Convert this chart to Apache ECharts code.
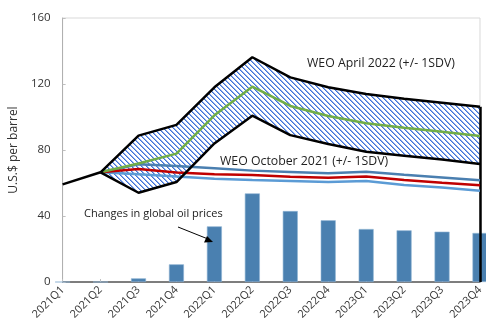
<!DOCTYPE html>
<html><head><meta charset="utf-8">
<script src="https://cdn.jsdelivr.net/npm/echarts@6/dist/echarts.min.js"></script>
<style>html,body{margin:0;padding:0;background:#fff}#c{width:486px;height:324px}</style>
</head><body><div id="c"></div>
<script>
var categories = ['2021Q1','2021Q2','2021Q3','2021Q4','2022Q1','2022Q2','2022Q3','2022Q4','2023Q1','2023Q2','2023Q3','2023Q4'];
var yTicks = [0, 40, 80, 120, 160];
var oilChanges = [0, 0, 2.2, 10.7, 33.7, 53.7, 43, 37.4, 32.1, 31.3, 30.5, 29.7];
var histPrices = [59.2, 66.5, null, null, null, null, null, null, null, null, null, null];
var apr22Upper = [null, 66.5, 88.7, 95.2, 118, 136.2, 124, 118, 114, 111, 108.7, 106.2];
var apr22Lower = [null, 66.5, 54.1, 60.6, 84, 100.8, 89, 83.6, 79, 76.5, 74.3, 71.5];
var apr22Base = [null, 66.5, 71.8, 77.8, 101, 118.4, 106.7, 100.6, 96.2, 93.5, 91.1, 88.5];
var oct21Upper = [null, 66.5, 71.3, 70.3, 68.9, 67.5, 66.7, 65.9, 66.8, 65, 63.4, 61.6];
var oct21Base = [null, 66.5, 68.5, 66.4, 65.3, 64.8, 63.8, 63.2, 64.0, 61.8, 60.2, 58.7];
var oct21Lower = [null, 66.5, 65.3, 64.0, 62.6, 61.8, 61.2, 60.6, 61.2, 58.8, 57.2, 55.3];
var labels = {
  yName: 'U.S.$ per barrel',
  apr: 'WEO April 2022 (+/- 1SDV)',
  oct: 'WEO October 2021 (+/- 1SDV)',
  bars: 'Changes in global oil prices'
};

var FONT = 'Open Sans';
var bandDiff = apr22Upper.map(function(v, i){ return v == null ? null : +(v - apr22Lower[i]).toFixed(2); });

var P = 5;
var cv = document.createElement('canvas');
cv.width = P; cv.height = P;
var cx = cv.getContext('2d');
cx.fillStyle = '#ffffff'; cx.fillRect(0,0,P,P);
for (var px = 0; px < P; px++) {
  for (var py = 0; py < P; py++) {
    var d = ((px - py) % P + P) % P;
    if (d === 0) { cx.fillStyle = '#3f72d8'; cx.fillRect(px, py, 1, 1); }
    else if (d === 1) { cx.fillStyle = '#8fadea'; cx.fillRect(px, py, 1, 1); }
  }
}

var chart = echarts.init(document.getElementById('c'), null, {renderer:'canvas'});
function line(name, data, color, width, z){
  return {name:name, type:'line', data:data, symbol:'none', smooth:false, z:z||5,
    lineStyle:{color:color, width:width}, itemStyle:{color:color}, connectNulls:false, animation:false};
}
var last = categories.length - 1;
chart.setOption({
  animation:false,
  textStyle:{fontFamily:FONT},
  grid:{left:62, right:2, top:18, bottom:42, show:true, borderColor:'#d9d9d9', borderWidth:1},
  xAxis:{type:'category', data:categories, boundaryGap:false,
    axisLine:{lineStyle:{color:'#595959', width:1.5}},
    axisTick:{show:true, inside:true, length:3, lineStyle:{color:'#bfbfbf'}},
    axisLabel:{rotate:45, fontSize:11, color:'#333', margin:6, fontFamily:FONT, interval:0},
    splitLine:{show:false}},
  yAxis:{type:'value', min:yTicks[0], max:yTicks[yTicks.length-1], interval:40,
    name:labels.yName, nameLocation:'middle', nameGap:32, nameRotate:90,
    nameTextStyle:{fontSize:12, color:'#333', fontFamily:FONT},
    axisLine:{show:true, lineStyle:{color:'#b0b0b0'}},
    axisTick:{show:true, inside:true, length:3, lineStyle:{color:'#bfbfbf'}},
    axisLabel:{fontSize:11.5, color:'#333', margin:12, fontFamily:FONT},
    splitLine:{show:false}},
  series:[
    {name:labels.bars, type:'bar', data:oilChanges, barWidth:15, z:2,
      itemStyle:{color:'#4a80b0', borderColor:'#8fb3d4', borderWidth:0.6}},
    {name:'bandBase', type:'line', stack:'band', data:apr22Lower, symbol:'none',
      lineStyle:{opacity:0}, z:3},
    {name:'bandDiff', type:'line', stack:'band', data:bandDiff, symbol:'none',
      lineStyle:{opacity:0}, z:3,
      areaStyle:{color:{image:cv, repeat:'repeat'}, opacity:1}},
    line('oct21Upper', oct21Upper, '#4a7fb0', 2.5, 6),
    line('oct21Lower', oct21Lower, '#5b9bd5', 2.5, 6),
    line('oct21Base', oct21Base, '#c00000', 2.5, 7),
    line('apr22Base', apr22Base, '#70ad47', 2.5, 8),
    Object.assign(line('apr22Upper', apr22Upper, '#000', 2.5, 9), {
      markLine:{silent:true, symbol:'none', label:{show:false}, animation:false,
        lineStyle:{color:'#000', width:2.5, type:'solid'},
        data:[[{coord:[last, apr22Upper[last]]},{coord:[last, 0]}]]}
    }),
    line('apr22Lower', apr22Lower, '#000', 2.5, 9),
    line('history', histPrices, '#000', 2.5, 9)
  ],
  graphic:[
    {type:'text', left:307, top:57, z:20, style:{text:labels.apr, fontSize:12.3, fill:'#222', fontFamily:FONT}},
    {type:'text', left:220, top:155, z:20, style:{text:labels.oct, fontSize:12.3, fill:'#222', fontFamily:FONT}},
    {type:'text', left:84, top:208, z:20, style:{text:labels.bars, fontSize:11, fill:'#222', fontFamily:FONT}},
    {type:'line', z:20, shape:{x1:178, y1:227, x2:208, y2:239}, style:{stroke:'#000', lineWidth:1}},
    {type:'polygon', z:20, shape:{points:[[213,242],[204,242.5],[207,236]]}, style:{fill:'#000'}}
  ]
});
</script></body></html>
